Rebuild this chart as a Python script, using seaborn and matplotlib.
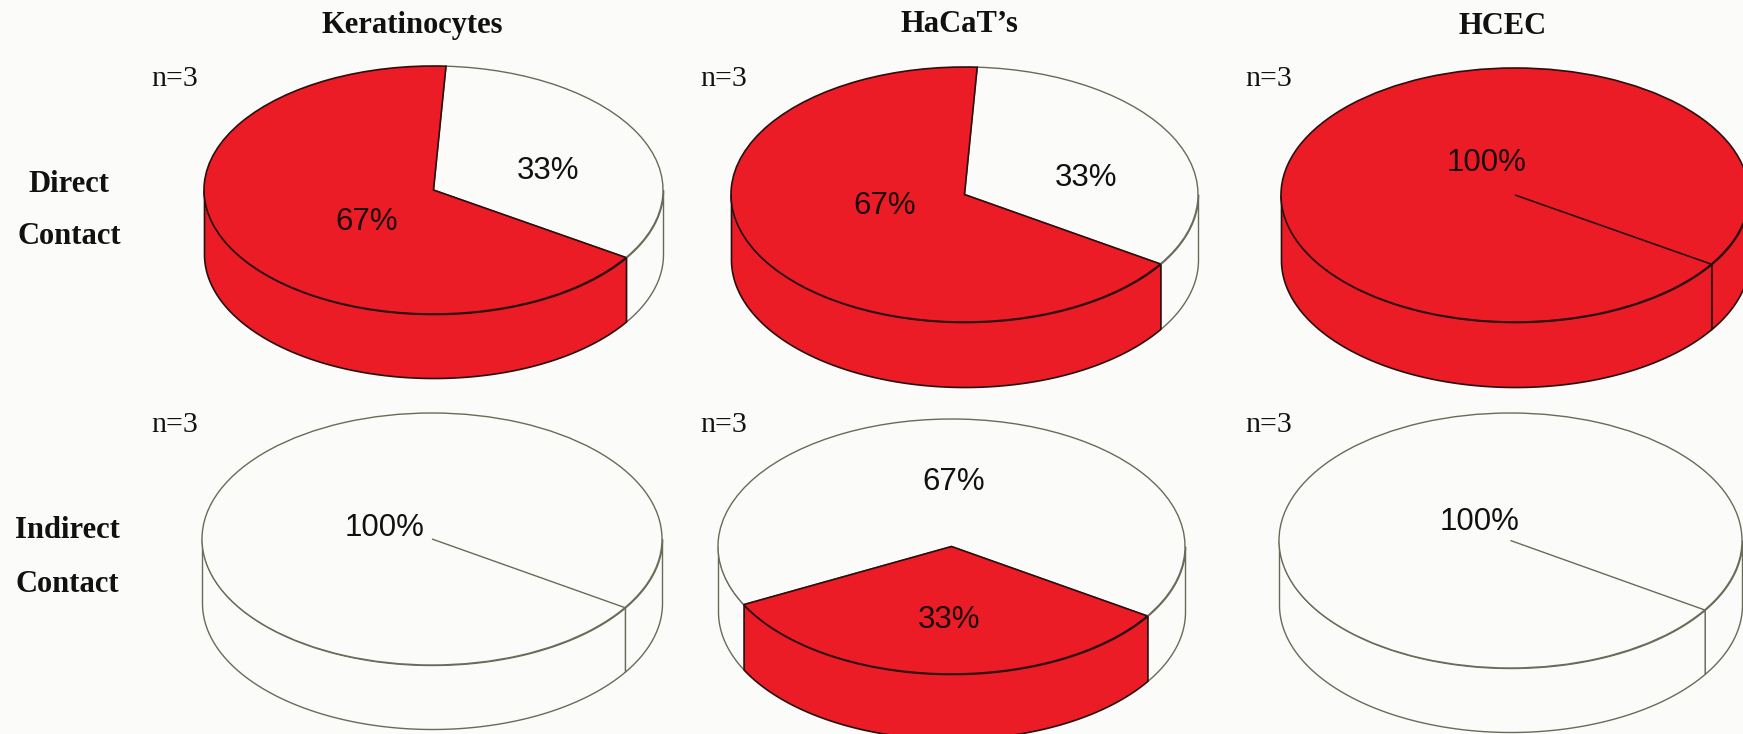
import numpy as np
import pandas as pd
import matplotlib
matplotlib.use("Agg")
import matplotlib.pyplot as plt
import seaborn as sns

# ---- data ----
cell_lines = ["Keratinocytes", "HaCaT\u2019s", "HCEC"]
contact_rows = [["Direct", "Contact"], ["Indirect", "Contact"]]
negative_pct = [[33.3, 33.3, 0], [100, 66.7, 100]]
positive_pct = [[66.7, 66.7, 100], [0, 33.3, 0]]
n_label = "n=3"

# ---- styling / layout (pixels of the 1743x734 canvas) ----
W, H = 1743, 734
BG = "#FBFBFA"
RED = "#EC1C26"
WHITE = "#FBFBFA"
EDGE_RED = "#2B0E0E"
EDGE_WHITE = "#6A6A58"
START_ANGLE = -33

sns.set_theme(style="white", rc={"figure.facecolor": BG, "savefig.facecolor": BG})
palette = sns.color_palette([WHITE, RED])

# centre x, centre y, half width, half height, wall depth
geometry = [
    [(433.5, 190, 229.5, 124, 64), (964.5, 194.5, 233.5, 127.5, 65), (1515, 195, 234, 127, 65)],
    [(432, 539, 230, 126, 64), (951.5, 546.5, 233.5, 127.5, 65), (1510.5, 540.5, 231.5, 127.5, 64)],
]
# label centres: negative slice, positive slice
pct_pos = [
    [((548, 168), (367, 219)), ((1086, 175), (885, 203)), (None, (1487, 160))],
    [((385, 525), None), ((954, 479), (949, 617)), ((1480, 519), None)],
]
title_x = [412, 959, 1503]
title_y = [22, 21, 23]
n_x = [175, 724, 1269]
n_y = [76, 422]
row_x = [69, 67]
row_y = [(182, 234), (528, 582)]
TEXT_DY = 3  # matplotlib centres on the line box, not on the glyphs

fig = plt.figure(figsize=(W / 100, H / 100), dpi=100)


def px_text(x, y, s, **kw):
    fig.text(x / W, 1 - (y + TEXT_DY) / H, s, ha="center", va="center", **kw)


def draw_pie(geo, neg, pos):
    cx, cy, a, b, depth = geo
    d = depth / b
    m = 0.03
    left = cx - a * (1 + m)
    bottom = cy + b + depth + b * m
    width = 2 * a * (1 + m)
    height = bottom - (cy - b * (1 + m))
    ax = fig.add_axes([left / W, 1 - bottom / H, width / W, height / H])
    ax.patch.set_alpha(0)

    table = pd.DataFrame({"pct": [neg, pos], "color": palette})
    wedges, _ = ax.pie(table["pct"], colors=list(table["color"]),
                       startangle=START_ANGLE, counterclock=True, radius=1)
    ax.set_aspect("auto")
    ax.set_xlim(-1 - m, 1 + m)
    ax.set_ylim(-1 - d - m, 1 + m)

    edges = [EDGE_WHITE, EDGE_RED]
    widths = [1.0, 1.2]
    if neg == 0:
        edges[0], widths[0] = edges[1], widths[1]
    if pos == 0:
        edges[1], widths[1] = edges[0], widths[0]

    # cylinder wall under the visible front half of each slice
    for w, val, ec, lw, fc in zip(wedges, table["pct"], edges, widths, table["color"]):
        if val == 0:
            continue
        for lo, hi in ((-180, 0), (180, 360)):
            t1, t2 = max(w.theta1, lo), min(w.theta2, hi)
            if t2 <= t1:
                continue
            t = np.radians(np.linspace(t1, t2, 200))
            ax.fill_between(np.cos(t), np.sin(t), np.sin(t) - d,
                            facecolor=fc, edgecolor=ec, linewidth=lw, zorder=0.5)

    for w, ec, lw in zip(wedges, edges, widths):
        w.set_edgecolor(ec)
        w.set_linewidth(lw)
        w.set_zorder(2)
    wedges[1].set_zorder(3 if pos > 0 else 1.5)

    # a slice of 100 % still shows its seam, as a spoke from the centre
    if neg == 0 or pos == 0:
        seam = np.radians(wedges[0].theta1)
        ax.plot([0, np.cos(seam)], [0, np.sin(seam)], color=edges[0],
                linewidth=widths[0], zorder=4, solid_capstyle="butt")
    sns.despine(ax=ax, left=True, bottom=True)


for r in range(2):
    for c in range(3):
        neg, pos = negative_pct[r][c], positive_pct[r][c]
        draw_pie(geometry[r][c], neg, pos)
        neg_xy, pos_xy = pct_pos[r][c]
        if neg_xy is not None:
            px_text(*neg_xy, f"{neg:.0f}%", family="Liberation Sans", fontsize=22.5, color="#111111", zorder=10)
        if pos_xy is not None:
            px_text(*pos_xy, f"{pos:.0f}%", family="Liberation Sans", fontsize=22.5, color="#1A0808", zorder=10)
        px_text(n_x[c], n_y[r], n_label, family="Liberation Serif", fontsize=21.5, color="#111111")

for c, name in enumerate(cell_lines):
    px_text(title_x[c], title_y[c], name, family="Liberation Serif", fontweight="bold", fontsize=22, color="#111111")

for r, lines in enumerate(contact_rows):
    for y, line in zip(row_y[r], lines):
        px_text(row_x[r], y, line, family="Liberation Serif", fontweight="bold", fontsize=22, color="#111111")

fig.savefig("out.png", dpi=100, facecolor=BG)
